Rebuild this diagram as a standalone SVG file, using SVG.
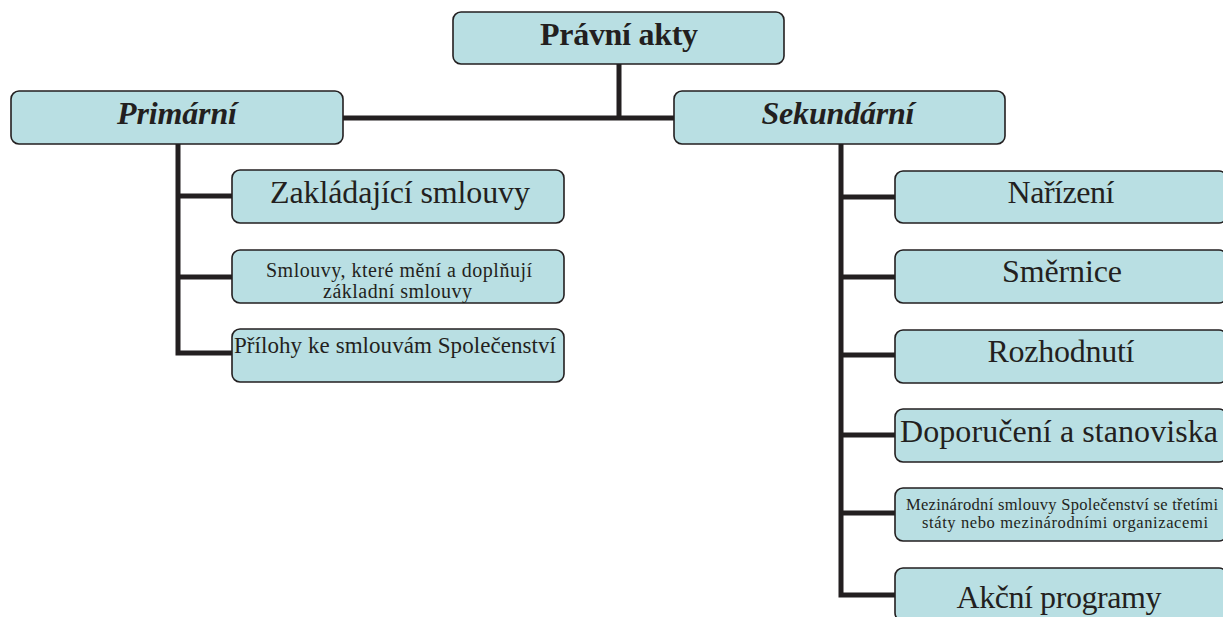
<svg xmlns="http://www.w3.org/2000/svg" width="1223" height="617" viewBox="0 0 1223 617">
<style>
.box{fill:#b9dfe3;stroke:#231f20;stroke-width:1.6}
.t{font-family:'Liberation Serif',serif;fill:#231f20;text-anchor:middle}
.h{font-weight:bold}
.hi{font-weight:bold;font-style:italic}
.c{stroke:#231f20;stroke-width:5;fill:none}
</style>
<rect width="1223" height="617" fill="#ffffff"/>
<g id="connectors">
<path class="c" d="M619,64 V118 M343,118 H676"/>
<path class="c" d="M178,144 V355.5 M175.5,196 H232 M175.5,277 H232 M175.5,353 H232"/>
<path class="c" d="M841,144 V597.5 M838.5,197 H895 M838.5,277 H895 M838.5,355 H895 M838.5,435 H895 M838.5,513 H895 M838.5,595 H895"/>
</g>
<g id="pravni-akty">
<rect class="box" x="453" y="12" width="331" height="52" rx="8"/>
<text class="t h" x="619" y="45" font-size="32" textLength="158">Právní akty</text>
</g>
<g id="primarni">
<rect class="box" x="11" y="91" width="332" height="53" rx="8"/>
<text class="t hi" x="177" y="124" font-size="32" textLength="120">Primární</text>
</g>
<g id="sekundarni">
<rect class="box" x="674" y="91" width="331" height="53" rx="8"/>
<text class="t hi" x="838" y="124" font-size="32" textLength="153">Sekundární</text>
</g>
<g id="zakladajici">
<rect class="box" x="232" y="170" width="332" height="53" rx="8"/>
<text class="t" x="400" y="203" font-size="32" textLength="260">Zakládající smlouvy</text>
</g>
<g id="smlouvy-meni">
<rect class="box" x="232" y="250" width="332" height="53" rx="8"/>
<text class="t" x="399" y="277" font-size="20" textLength="266">Smlouvy, které mění a doplňují</text>
<text class="t" x="397.5" y="298" font-size="20" textLength="149">základní smlouvy</text>
</g>
<g id="prilohy">
<rect class="box" x="232" y="329" width="332" height="53" rx="8"/>
<text class="t" x="395" y="353" font-size="23" textLength="322">Přílohy ke smlouvám Společenství</text>
</g>
<g id="narizeni">
<rect class="box" x="895" y="171" width="332" height="52" rx="8"/>
<text class="t" x="1061" y="203" font-size="32" textLength="107">Nařízení</text>
</g>
<g id="smernice">
<rect class="box" x="895" y="250" width="332" height="53" rx="8"/>
<text class="t" x="1062" y="282" font-size="32" textLength="120">Směrnice</text>
</g>
<g id="rozhodnuti">
<rect class="box" x="895" y="330" width="332" height="53" rx="8"/>
<text class="t" x="1061" y="362" font-size="32" textLength="147">Rozhodnutí</text>
</g>
<g id="doporuceni">
<rect class="box" x="895" y="409" width="332" height="53" rx="8"/>
<text class="t" x="1059" y="442" font-size="32" textLength="318">Doporučení a stanoviska</text>
</g>
<g id="mezinarodni">
<rect class="box" x="895" y="488" width="332" height="53" rx="8"/>
<text class="t" x="1062" y="510" font-size="16.5" textLength="312">Mezinárodní smlouvy Společenství se třetími</text>
<text class="t" x="1065" y="528" font-size="16.5" textLength="286">státy nebo mezinárodními organizacemi</text>
</g>
<g id="akcni">
<rect class="box" x="895" y="568" width="332" height="53" rx="8"/>
<text class="t" x="1059" y="608" font-size="32" textLength="205">Akční programy</text>
</g>
</svg>
